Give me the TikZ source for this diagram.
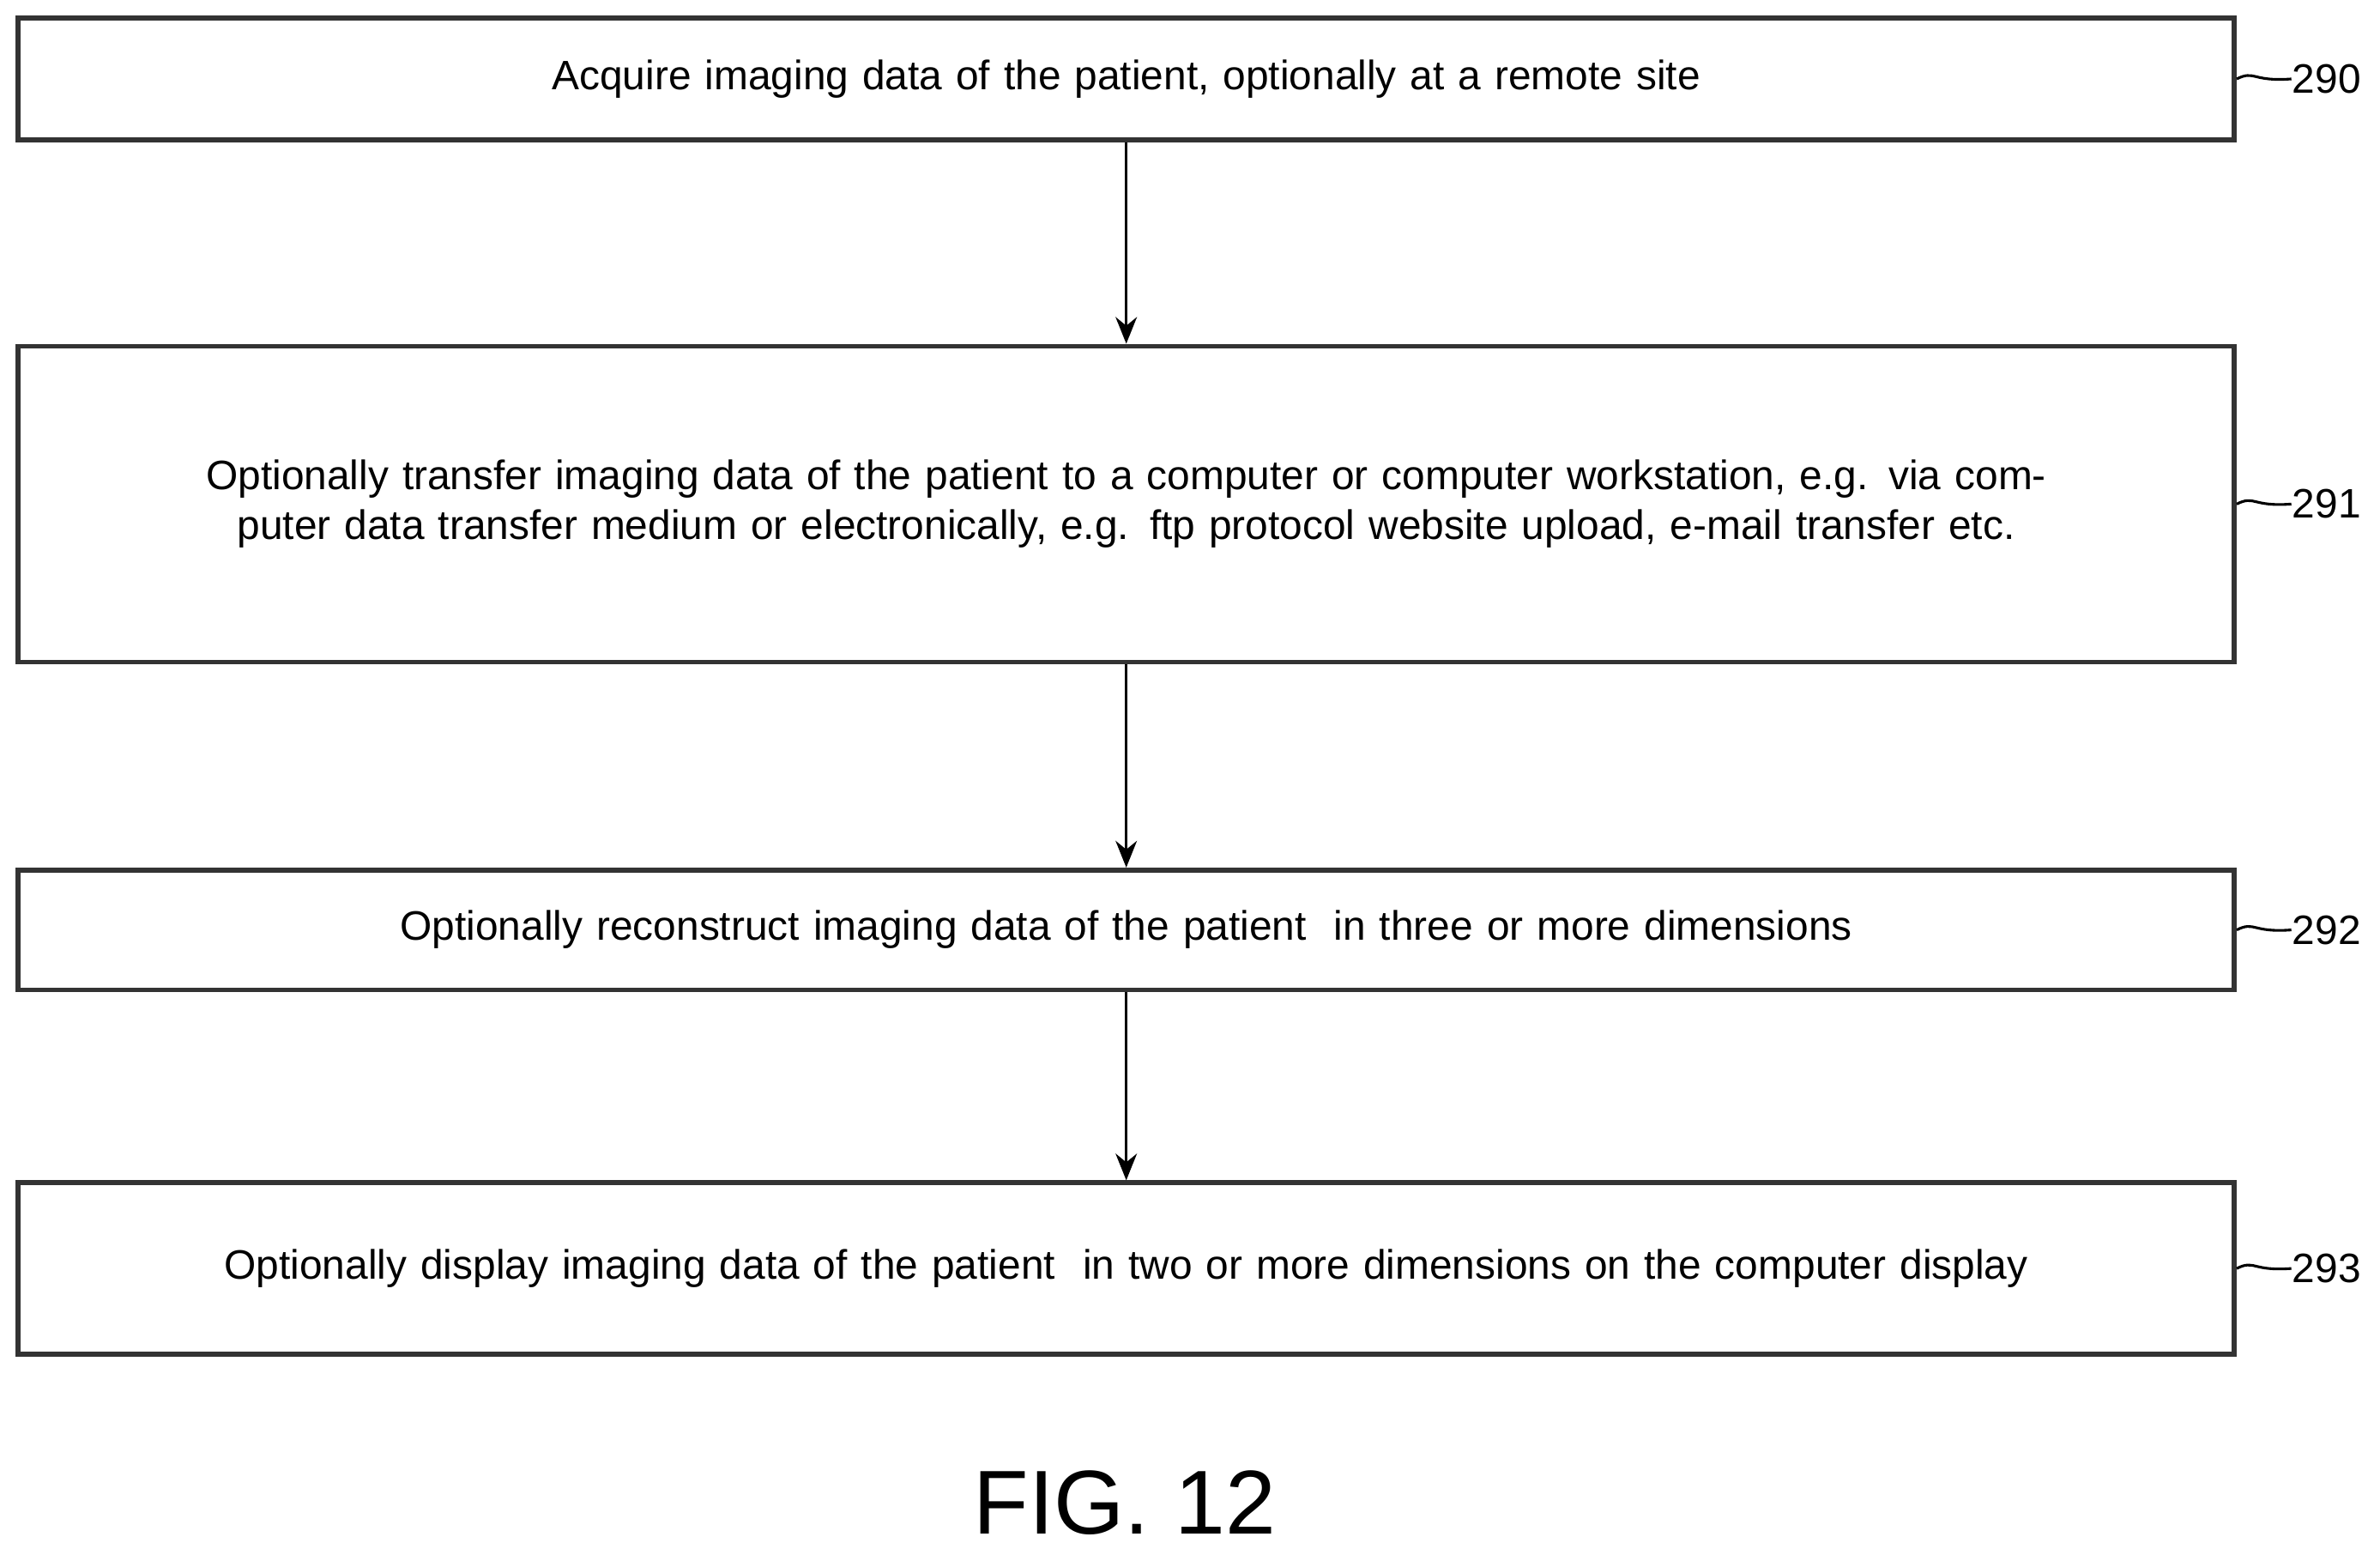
\documentclass[tikz,border=0pt]{standalone}
\usepackage{fontspec}
\setmainfont{Liberation Sans}
\usetikzlibrary{arrows.meta}
\tikzset{
  stage/.style={draw=black!80, line width=0.9pt, minimum width=14.6cm, inner sep=0pt,
    text width=12.9cm, align=center, font=\fontsize{7.7}{9.4}\selectfont},
  ref/.style={font=\fontsize{7.7}{9}\selectfont, anchor=west, inner sep=0pt},
  flow/.style={-{Stealth[length=5pt,width=4pt]}, line width=0.5pt},
  tag/.style={line width=0.5pt}
}
\begin{document}
\begin{tikzpicture}
\useasboundingbox (0,0) rectangle (15.68,-10.20);
% steps
\node[stage, minimum height=0.80cm] (acq) at (7.42,-0.52) {Acquire imaging data of the patient, optionally at a remote site};
\node[stage, minimum height=2.08cm] (xfer) at (7.42,-3.32) {Optionally transfer imaging data of the patient to a computer or computer workstation, e.g. via computer data transfer medium or electronically, e.g. ftp protocol website upload, e-mail transfer etc.};
\node[stage, minimum height=0.79cm] (recon) at (7.42,-6.125) {Optionally reconstruct imaging data of the patient\ \ in three or more dimensions};
\node[stage, minimum height=1.13cm] (disp) at (7.42,-8.355) {Optionally display imaging data of the patient\ \ in two or more dimensions on the computer display};
% connectors
\draw[flow] (acq) -- (xfer);
\draw[flow] (xfer) -- (recon);
\draw[flow] (recon) -- (disp);
% reference numerals
\foreach \blk/\num in {acq/290, xfer/291, recon/292, disp/293}{
  \node[ref] (n\num) at ([xshift=0.36cm]\blk.east) {\num};
  \draw[tag] (\blk.east) .. controls ([xshift=0.12cm,yshift=0.06cm]\blk.east) and ([xshift=0.1cm,yshift=-0.02cm]\blk.east) .. (n\num.west);
}
\node[font=\fontsize{17}{20}\selectfont] (fig) at (7.41,-9.90) {FIG. 12};
\end{tikzpicture}
\end{document}
